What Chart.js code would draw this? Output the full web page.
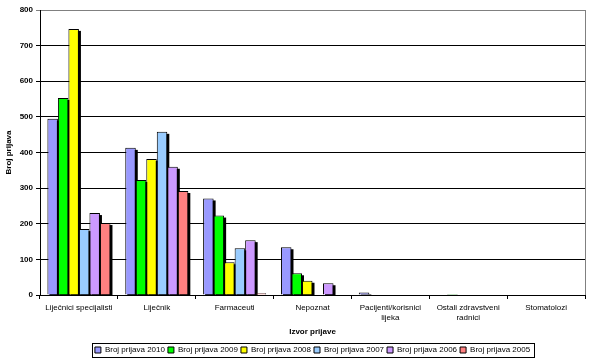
<!DOCTYPE html>
<html>
<head>
<meta charset="utf-8">
<script src="https://cdn.jsdelivr.net/npm/chart.js@4/dist/chart.umd.min.js"></script>
<style>
  html, body { margin: 0; padding: 0; background: #fff; }
  #wrap { width: 589px; height: 359px; }
</style>
</head>
<body>
<div id="wrap"><canvas id="c" width="589" height="359"></canvas></div>
<script>
const categories = [
  'Liječnici specijalisti',
  'Liječnik',
  'Farmaceuti',
  'Nepoznat',
  ['Pacijenti/korisnici', 'lijeka'],
  ['Ostali zdravstveni', 'radnici'],
  'Stomatolozi'
];

const seriesNames = ['Broj prijava 2010', 'Broj prijava 2009', 'Broj prijava 2008',
  'Broj prijava 2007', 'Broj prijava 2006', 'Broj prijava 2005'];

const prijave2010 = [495, 413, 271, 134, 7, 0, 0];
const prijave2009 = [553, 323, 223, 61, 0, 3, 0];
const prijave2008 = [747, 382, 92, 40, 0, 0, 0];
const prijave2007 = [185, 458, 131, 0, 0, 0, 0];
const prijave2006 = [230, 360, 154, 33, 0, 0, 0];
const prijave2005 = [202, 292, 5, 0, 0, 0, 0];

const yTicks = [0, 100, 200, 300, 400, 500, 600, 700, 800];

const colors = ['#9999FF', '#00FF00', '#FFFF00', '#99CCFF', '#CC99FF', '#FF8080'];
const values = [prijave2010, prijave2009, prijave2008, prijave2007, prijave2006, prijave2005];

const font = 'Liberation Sans, Arial, sans-serif';

// black drop shadows behind bars, like the excel chart
const shadowPlugin = {
  id: 'barShadow',
  afterUpdate(chart) {
    // legend is centred under the plot, not the whole canvas
    const lg = chart.legend;
    const dx = (chart.chartArea.left + chart.chartArea.right) / 2 - (lg.left + lg.right) / 2;
    lg.left += dx;
    lg.right += dx;
    lg.legendHitBoxes.forEach(h => { h.left += dx; });
  },
  beforeDatasetsDraw(chart) {
    const ctx = chart.ctx;
    const a = chart.chartArea;
    ctx.save();
    ctx.beginPath();
    ctx.rect(a.left, a.top - 5, a.right - a.left + 5, a.bottom - a.top + 5);
    ctx.clip();
    ctx.fillStyle = '#000';
    chart.data.datasets.forEach((ds, i) => {
      chart.getDatasetMeta(i).data.forEach((bar, j) => {
        if (!ds.data[j]) return;
        const p = bar.getProps(['x', 'y', 'base', 'width'], true);
        ctx.fillRect(p.x - p.width / 2 + 2, p.y + 2, p.width, p.base - p.y);
      });
    });
    ctx.restore();
  },
  afterDraw(chart) {
    const ctx = chart.ctx;
    const a = chart.chartArea;
    ctx.save();
    ctx.strokeStyle = '#808080';
    ctx.lineWidth = 1;
    ctx.beginPath();
    ctx.moveTo(Math.round(a.right) + 0.5, a.top);
    ctx.lineTo(Math.round(a.right) + 0.5, a.bottom);
    ctx.stroke();
    // box around legend
    const hb = chart.legend.legendHitBoxes;
    if (hb && hb.length) {
      const x0 = Math.min(...hb.map(h => h.left)) - 3;
      const x1 = Math.max(...hb.map(h => h.left + h.width)) + 4;
      const y0 = hb[0].top - 3;
      const y1 = hb[0].top + hb[0].height + 3;
      ctx.strokeStyle = '#000';
      ctx.strokeRect(Math.round(x0) + 0.5, Math.round(y0) + 0.5, Math.round(x1 - x0), Math.round(y1 - y0));
    }
    ctx.restore();
  }
};

new Chart(document.getElementById('c'), {
  type: 'bar',
  data: {
    labels: categories,
    datasets: seriesNames.map((name, i) => ({
      label: name,
      data: values[i],
      backgroundColor: colors[i],
      borderColor: '#000',
      borderWidth: 1,
      borderSkipped: 'bottom',
      barPercentage: 1,
      categoryPercentage: 0.81
    }))
  },
  options: {
    responsive: false,
    animation: false,
    layout: { padding: { top: 10, right: 4, left: 4, bottom: -5 } },
    plugins: {
      tooltip: { enabled: false },
      legend: {
        position: 'bottom',
        labels: {
          color: '#000',
          font: { family: font, size: 8 },
          boxWidth: 6,
          boxHeight: 6,
          padding: 3
        }
      }
    },
    scales: {
      x: {
        afterFit(scale) { scale.height = 48; },
        grid: { offset: true, drawOnChartArea: false, color: '#000', tickLength: 4 },
        border: { color: '#000' },
        ticks: { color: '#000', font: { family: font, size: 8, lineHeight: 1.35 }, maxRotation: 0, autoSkip: false, padding: 3 },
        title: { display: true, text: 'Izvor prijave', color: '#000', font: { family: font, size: 8, weight: 'bold' }, padding: { top: 4, bottom: 6 } }
      },
      y: {
        min: 0,
        max: 800,
        afterBuildTicks(scale) { scale.ticks = yTicks.map(v => ({ value: v })); },
        afterFit(scale) { scale.width = 36; },
        grid: {
          color: ctx => (ctx.tick && ctx.tick.value === 800 ? '#808080' : '#000'),
          tickLength: 4
        },
        border: { color: '#000' },
        ticks: { color: '#000', font: { family: font, size: 8, weight: 'bold' }, padding: 3 },
        title: { display: true, text: 'Broj prijava', color: '#000', font: { family: font, size: 8, weight: 'bold' }, padding: 0 }
      }
    }
  },
  plugins: [shadowPlugin]
});
</script>
</body>
</html>
